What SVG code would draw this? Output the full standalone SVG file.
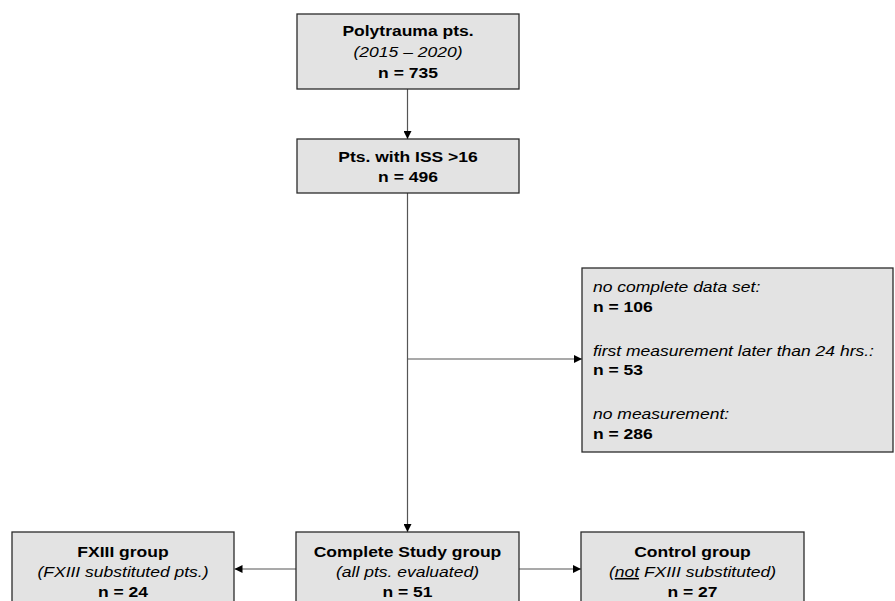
<svg xmlns="http://www.w3.org/2000/svg" width="895" height="601" viewBox="0 0 895 601">
<style>
.box{fill:#e3e3e3;stroke:#2b2b2b;stroke-width:1.3}
.t{font-family:"Liberation Sans",Arial,sans-serif;font-size:15.5px;fill:#000}
.b{font-weight:bold}
.i{font-style:italic}
.c{text-anchor:middle}
.ln{fill:none;stroke:#555;stroke-width:1.2}
</style>
<defs>
<marker id="ah" viewBox="0 0 10 10" refX="10" refY="5" markerWidth="8" markerHeight="8" markerUnits="userSpaceOnUse" orient="auto">
<path d="M0,0 L10,5 L0,10 Z" fill="#000"/>
</marker>
</defs>
<g id="connectors">
<line class="ln" x1="407.5" y1="89" x2="407.5" y2="139" marker-end="url(#ah)"/>
<line class="ln" x1="407.5" y1="193" x2="407.5" y2="532" marker-end="url(#ah)"/>
<line class="ln" x1="407.5" y1="359" x2="582" y2="359" marker-end="url(#ah)"/>
<line class="ln" x1="296" y1="569" x2="234.5" y2="569" marker-end="url(#ah)"/>
<line class="ln" x1="519" y1="569" x2="581" y2="569" marker-end="url(#ah)"/>
</g>
<g id="node-polytrauma">
<rect class="box" x="297" y="14" width="222" height="75"/>
<text class="t c" transform="translate(408 36) scale(1.13 1)"><tspan class="b" x="0" y="0">Polytrauma pts.</tspan><tspan class="i" x="0" y="21">(2015 – 2020)</tspan><tspan class="b" x="0" y="42">n = 735</tspan></text>
</g>
<g id="node-iss">
<rect class="box" x="297" y="139" width="222" height="54"/>
<text class="t c b" transform="translate(408 162) scale(1.13 1)"><tspan x="0" y="0">Pts. with ISS &gt;16</tspan><tspan x="0" y="20">n = 496</tspan></text>
</g>
<g id="node-excluded">
<rect class="box" x="582" y="268" width="311" height="184"/>
<text class="t" transform="translate(593 292) scale(1.13 1)"><tspan class="i" x="0" y="0">no complete data set:</tspan><tspan class="b" x="0" y="20">n = 106</tspan><tspan class="i" x="0" y="64">first measurement later than 24 hrs.:</tspan><tspan class="b" x="0" y="83">n = 53</tspan><tspan class="i" x="0" y="127">no measurement:</tspan><tspan class="b" x="0" y="147">n = 286</tspan></text>
</g>
<g id="node-fxiii">
<rect class="box" x="12" y="532" width="222" height="80"/>
<text class="t c" transform="translate(123 557) scale(1.13 1)"><tspan class="b" x="0" y="0">FXIII group</tspan><tspan class="i" x="0" y="20">(FXIII substituted pts.)</tspan><tspan class="b" x="0" y="40">n = 24</tspan></text>
</g>
<g id="node-complete">
<rect class="box" x="296" y="532" width="223" height="80"/>
<text class="t c" transform="translate(407.5 557) scale(1.13 1)"><tspan class="b" x="0" y="0">Complete Study group</tspan><tspan class="i" x="0" y="20">(all pts. evaluated)</tspan><tspan class="b" x="0" y="40">n = 51</tspan></text>
</g>
<g id="node-control">
<rect class="box" x="581" y="532" width="223" height="80"/>
<text class="t c" transform="translate(692.5 557) scale(1.13 1)"><tspan class="b" x="0" y="0">Control group</tspan><tspan class="i" x="0" y="20">(<tspan text-decoration="underline">not</tspan> FXIII substituted)</tspan><tspan class="b" x="0" y="40">n = 27</tspan></text>
</g>
</svg>
